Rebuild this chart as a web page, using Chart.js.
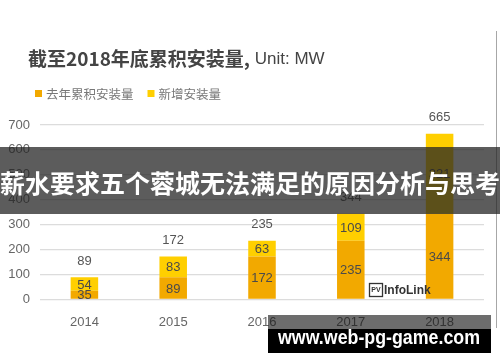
<!DOCTYPE html>
<html>
<head>
<meta charset="utf-8">
<script src="https://cdn.jsdelivr.net/npm/chart.js@4.4.0/dist/chart.umd.min.js"></script>
<style>
  body { margin: 0; background: #fff; }
  #wrap { width: 500px; height: 362px; position: relative; }
</style>
</head>
<body>
<div id="wrap"><canvas id="chart"></canvas></div>
<script>
const years = ['2014', '2015', '2016', '2017', '2018'];
const prevTotal = [35, 89, 172, 235, 344];
const added = [54, 83, 63, 109, 321];
const totals = [89, 172, 235, 344, 665];
const yTicks = [0, 100, 200, 300, 400, 500, 600, 700];

const seriesNames = ['去年累积安装量', '新增安装量'];
const colors = ['#F2A900', '#FFCF00'];
const SANS = '"Liberation Sans", "Noto Sans CJK SC", Arial, sans-serif';
const CJK = '"Noto Sans CJK SC", "Liberation Sans", sans-serif';

const extras = {
  id: 'extras',
  afterDatasetsDraw(chart) {
    const ctx = chart.ctx;
    ctx.save();
    ctx.fillStyle = '#4a4a4a';
    ctx.font = '13px ' + SANS;
    ctx.textAlign = 'center';
    ctx.textBaseline = 'middle';
    chart.data.datasets.forEach((ds, i) => {
      chart.getDatasetMeta(i).data.forEach((bar, j) => {
        ctx.fillText(String(ds.data[j]), bar.x, (bar.y + bar.base) / 2 + 1);
      });
    });
    ctx.fillStyle = '#555';
    const top = chart.getDatasetMeta(1).data;
    top.forEach((bar, j) => {
      ctx.fillText(String(totals[j]), bar.x, bar.y - 16);
    });
    ctx.restore();
  },
  afterDraw(chart) {
    const ctx = chart.ctx;
    ctx.save();
    // title
    ctx.textBaseline = 'middle';
    ctx.textAlign = 'left';
    ctx.fillStyle = '#444';
    ctx.font = 'bold 19px ' + CJK;
    const t1 = '截至2018年底累积安装量,';
    ctx.fillText(t1, 28, 59);
    const w1 = ctx.measureText(t1).width;
    ctx.font = '17px ' + SANS;
    ctx.fillText(' Unit: MW', 28 + w1, 59);

    // legend
    ctx.font = '12.5px ' + CJK;
    let lx = 35;
    seriesNames.forEach((name, i) => {
      ctx.fillStyle = colors[i];
      ctx.fillRect(lx, 90, 7, 7);
      ctx.fillStyle = '#777';
      ctx.fillText(name, lx + 11, 94);
      lx += 11 + ctx.measureText(name).width + 14;
    });

    // logo
    ctx.strokeStyle = '#333';
    ctx.lineWidth = 1.3;
    ctx.strokeRect(369.5, 283.5, 13, 13);
    ctx.fillStyle = '#333';
    ctx.font = 'bold 7px ' + SANS;
    ctx.textAlign = 'center';
    ctx.fillText('PV', 376, 290.5);
    ctx.textAlign = 'left';
    ctx.font = 'bold 12px ' + SANS;
    ctx.fillText('InfoLink', 384, 290.5);

    // right page edge
    ctx.strokeStyle = 'rgba(60,60,60,0.45)';
    ctx.lineWidth = 1;
    ctx.beginPath();
    ctx.moveTo(496.5, 31);
    ctx.lineTo(496.5, 328);
    ctx.stroke();

    // banner
    ctx.fillStyle = 'rgba(35,35,35,0.74)';
    ctx.fillRect(0, 147, 500, 67);
    ctx.fillStyle = '#fff';
    ctx.font = 'bold 25px ' + CJK;
    ctx.textAlign = 'center';
    ctx.fillText('薪水要求五个蓉城无法满足的原因分析与思考', 250, 183);

    // watermark box
    ctx.fillStyle = 'rgba(20,20,20,0.62)';
    ctx.fillRect(268, 315, 223, 14);
    ctx.fillStyle = '#000';
    ctx.fillRect(268, 329, 223, 24);
    ctx.fillStyle = '#fff';
    ctx.font = 'bold 21px ' + SANS;
    const wm = 'www.web-pg-game.com';
    const ww = ctx.measureText(wm).width;
    ctx.save();
    ctx.translate(379, 338);
    ctx.scale(202 / ww, 1);
    ctx.fillText(wm, 0, 0);
    ctx.restore();
    ctx.restore();
  }
};

new Chart(document.getElementById('chart'), {
  type: 'bar',
  data: {
    labels: years,
    datasets: [
      { label: seriesNames[0], data: prevTotal, backgroundColor: colors[0] },
      { label: seriesNames[1], data: added, backgroundColor: colors[1] }
    ]
  },
  options: {
    responsive: true,
    maintainAspectRatio: false,
    animation: false,
    layout: { padding: { left: 0, right: 16, top: 125, bottom: 25 } },
    plugins: {
      legend: { display: false },
      tooltip: { enabled: false }
    },
    datasets: { bar: { categoryPercentage: 1, barPercentage: 0.31 } },
    scales: {
      x: {
        stacked: true,
        grid: { display: false },
        border: { display: false },
        ticks: { color: '#666', font: { size: 13, family: SANS }, padding: 7 }
      },
      y: {
        stacked: true,
        min: 0,
        max: 700,
        afterBuildTicks(scale) { scale.ticks = yTicks.map(v => ({ value: v })); },
        afterFit(scale) { scale.width = 40; },
        grid: { color: '#dcdcdc', lineWidth: 1.2, drawTicks: false },
        border: { display: false },
        ticks: { color: '#666', font: { size: 13, family: SANS }, padding: 10 }
      }
    }
  },
  plugins: [extras]
});
</script>
</body>
</html>
